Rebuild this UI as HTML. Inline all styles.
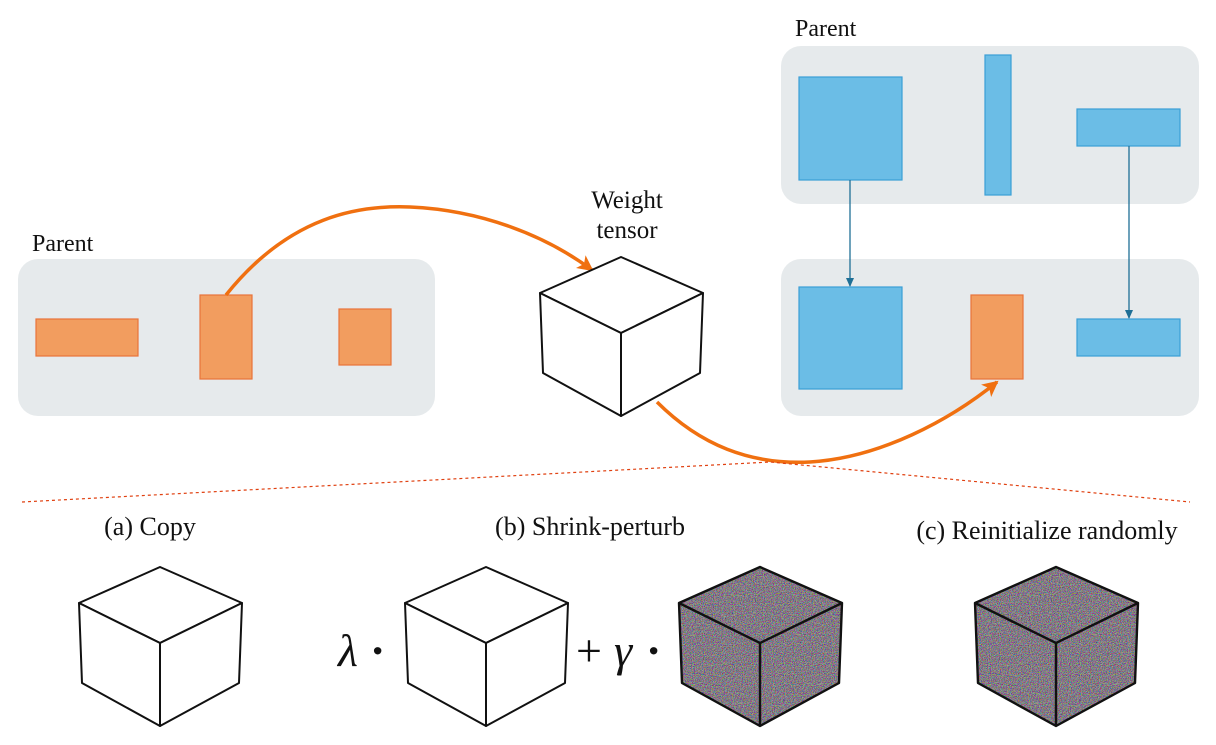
<!DOCTYPE html>
<html><head><meta charset="utf-8"><style>
body{margin:0;background:#fff;}
svg{display:block;}
text{font-family:"Liberation Serif",serif;fill:#111;}
</style></head><body>
<svg width="1216" height="745" viewBox="0 0 1216 745" xmlns="http://www.w3.org/2000/svg">
<defs>
<filter id="noise" x="0" y="0" width="100%" height="100%">
<feTurbulence type="fractalNoise" baseFrequency="1.1" numOctaves="1" seed="3" result="t"/>
<feColorMatrix in="t" type="matrix" values="3 -1 0 0 -0.55  0 3 -1 0 -0.6  -1 0 3 0 -0.55  0 0 0 0 1"/>
</filter>
<marker id="oa" markerWidth="20" markerHeight="20" refX="14" refY="10" orient="auto" markerUnits="userSpaceOnUse"><path d="M0,2 L16,10 L0,18 L4,10 Z" fill="#f07010"/></marker>
<marker id="ba" markerWidth="10" markerHeight="10" refX="8" refY="5" orient="auto" markerUnits="userSpaceOnUse"><path d="M0,1 L9,5 L0,9 Z" fill="#1f6f96"/></marker>
<g id="cube" fill="#fff" stroke="#111" stroke-width="2" stroke-linejoin="round">
<path d="M621,257 L703,293 L621,333 L540,293 Z"/>
<path d="M540,293 L621,333 L621,416 L543,373 Z"/>
<path d="M621,333 L703,293 L700,373 L621,416 Z"/>
</g>
<clipPath id="cc"><path d="M621,257 L703,293 L700,373 L621,416 L543,373 L540,293 Z"/></clipPath>
<g id="ncube">
<g clip-path="url(#cc)"><rect x="530" y="250" width="180" height="170" filter="url(#noise)"/><rect x="530" y="250" width="180" height="170" fill="#5a5560" opacity="0.45"/></g>
<g fill="none" stroke="#111" stroke-width="2.4" stroke-linejoin="round">
<path d="M621,257 L703,293 L700,373 L621,416 L543,373 L540,293 Z M540,293 L621,333 L703,293 M621,333 L621,416"/>
</g>
</g>
</defs>

<rect x="18" y="259" width="417" height="157" rx="20" fill="#e6eaec"/>
<rect x="781" y="46" width="418" height="158" rx="20" fill="#e6eaec"/>
<rect x="781" y="259" width="418" height="157" rx="20" fill="#e6eaec"/>

<g fill="#f29d5f" stroke="#e8733a" stroke-width="1.2">
<rect x="36" y="319" width="102" height="37"/>
<rect x="200" y="295" width="52" height="84"/>
<rect x="339" y="309" width="52" height="56"/>
<rect x="971" y="295" width="52" height="84"/>
</g>
<g fill="#6bbde6" stroke="#3a9fd6" stroke-width="1.2">
<rect x="799" y="77" width="103" height="103"/>
<rect x="985" y="55" width="26" height="140"/>
<rect x="1077" y="109" width="103" height="37"/>
<rect x="799" y="287" width="103" height="102"/>
<rect x="1077" y="319" width="103" height="37"/>
</g>
<g stroke="#1f6f96" stroke-width="1.3">
<line x1="850" y1="180" x2="850" y2="286" marker-end="url(#ba)"/>
<line x1="1129" y1="146" x2="1129" y2="318" marker-end="url(#ba)"/>
</g>

<path d="M226,295 C290,215 360,205 410,207 C480,210 545,235 592,270" fill="none" stroke="#f07010" stroke-width="3.5" marker-end="url(#oa)"/>
<path d="M657,402 C700,445 750,465 810,462 C880,458 950,420 997,382" fill="none" stroke="#f07010" stroke-width="3.5" marker-end="url(#oa)"/>

<path d="M22,502 L770,462 L1190,502" fill="none" stroke="#e04010" stroke-width="1.2" stroke-dasharray="3,3"/>

<use href="#cube"/>
<use href="#cube" transform="translate(-461,310)"/>
<use href="#cube" transform="translate(-135,310)"/>
<use href="#ncube" transform="translate(139,310)"/>
<use href="#ncube" transform="translate(435,310)"/>

<text x="32" y="251" font-size="24">Parent</text>
<text x="795" y="36" font-size="24">Parent</text>
<text x="627" y="208" font-size="25" text-anchor="middle">Weight</text>
<text x="627" y="238" font-size="25" text-anchor="middle">tensor</text>
<text x="150" y="535" font-size="26" text-anchor="middle">(a) Copy</text>
<text x="590" y="535" font-size="26" text-anchor="middle">(b) Shrink-perturb</text>
<text x="1047" y="539" font-size="26" text-anchor="middle">(c) Reinitialize randomly</text>
<text x="338" y="666" font-size="46" font-style="italic">λ</text>
<text x="370" y="666" font-size="46" font-weight="bold">·</text>
<text x="576" y="666" font-size="46">+</text>
<text x="614" y="666" font-size="46" font-style="italic">γ</text>
<text x="646" y="666" font-size="46" font-weight="bold">·</text>
</svg>
</body></html>
